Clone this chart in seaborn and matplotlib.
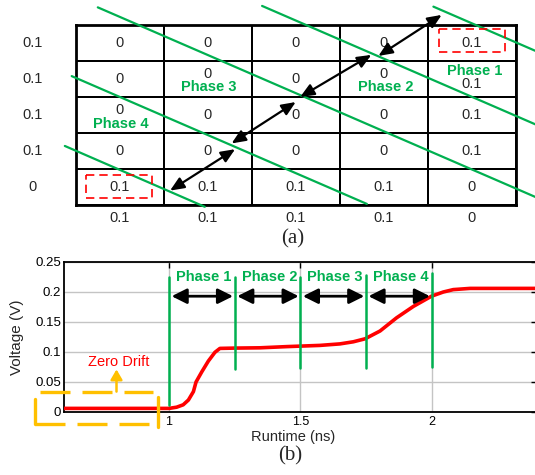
import numpy as np
import pandas as pd
import matplotlib
matplotlib.use("Agg")
import matplotlib.pyplot as plt
import seaborn as sns
from matplotlib.colors import ListedColormap
from matplotlib.patches import Rectangle

sns.set_style("white")
plt.rcParams['font.family'] = ['Liberation Sans', 'DejaVu Sans']

GREEN = '#00B050'
ORANGE = '#FFC000'

# ---------------- panel (a) data ----------------
cell_values = [[0, 0, 0, 0, 0.1],
               [0, 0, 0, 0, 0.1],
               [0, 0, 0, 0, 0.1],
               [0, 0, 0, 0, 0.1],
               [0.1, 0.1, 0.1, 0.1, 0]]
row_labels = ["0.1", "0.1", "0.1", "0.1", "0"]
col_labels = ["0.1", "0.1", "0.1", "0.1", "0"]
phase_names = ["Phase 1", "Phase 2", "Phase 3", "Phase 4"]
phase_label_x = [4.54, 3.52, 1.51, 0.51]
phase_label_y = [1.27, 1.73, 1.73, 2.76]
# cells whose value text is moved up/down (row, col) -> dy
shifted_cells = {(1, 1): -0.14, (1, 3): -0.14, (1, 4): 0.14, (2, 0): -0.14}
# diagonal phase boundaries, in table cell units
boundary_x0 = [4.066, 2.117, 0.248, -0.049, -0.127]
boundary_y0 = [-0.51, -0.53, -0.49, 1.42, 3.36]
boundary_x1 = [5.30, 5.30, 5.30, 3.309, 1.465]
boundary_y1 = [0.796, 2.838, 4.855, 4.97, 5.05]
# double arrows across each phase
arrow_x0 = [4.16, 3.36, 2.50, 1.81]
arrow_y0 = [-0.28, 0.83, 2.14, 3.45]
arrow_x1 = [3.44, 2.55, 1.77, 1.07]
arrow_y1 = [0.86, 2.00, 3.29, 4.60]
# red dashed highlight boxes (x, y, w, h)
box_x = [4.13, 0.117]
box_y = [0.12, 4.17]
box_w = [0.75, 0.746]
box_h = [0.64, 0.64]

# ---------------- panel (b) data ----------------
runtime = [0.6, 1.0, 1.029, 1.054, 1.074, 1.093, 1.103, 1.125, 1.15, 1.175,
           1.194, 1.25, 1.347, 1.45, 1.575, 1.651, 1.702, 1.747, 1.804, 1.867,
           1.931, 2.0, 2.045, 2.083, 2.147, 2.25, 2.4]
voltage = [0.006, 0.006, 0.008, 0.012, 0.02, 0.034, 0.05, 0.067, 0.085, 0.0995,
           0.106, 0.1065, 0.107, 0.109, 0.111, 0.1135, 0.117, 0.122, 0.135, 0.157,
           0.176, 0.193, 0.200, 0.204, 0.206, 0.206, 0.206]
phase_times = [1.0, 1.25, 1.5, 1.75, 2.0]
phase_line_bottom = [0.012, 0.071, 0.073, 0.074, 0.0755]
phase_line_top = [0.2245, 0.2245, 0.2255, 0.228, 0.231]
x_ticks = [1, 1.5, 2]
x_tick_labels = ["1", "1.5", "2"]
y_ticks = [0, 0.05, 0.1, 0.15, 0.2, 0.25]
y_tick_labels = ["0", "0.05", "0.1", "0.15", "0.2", "0.25"]

W, H = 535, 475
fig = plt.figure(figsize=(W / 100, H / 100), dpi=100)

# ================= panel (a) =================
ax_a = fig.add_axes([76 / W, 1 - 205 / H, 439.5 / W, 180 / H])
df = pd.DataFrame(cell_values)
sns.heatmap(df, ax=ax_a, cmap=ListedColormap(['white']), cbar=False,
            linewidths=1.4, linecolor='black', annot=False,
            xticklabels=False, yticklabels=False)
for s in ax_a.spines.values():
    s.set_visible(True)
    s.set_linewidth(2.0)
    s.set_color('black')

for i, row in enumerate(cell_values):
    for j, v in enumerate(row):
        dy = shifted_cells.get((i, j), 0.0)
        ax_a.text(j + 0.5, i + 0.5 + dy, f"{v:g}", ha='center', va='center',
                  fontsize=10.5, zorder=5)
for i, lab in enumerate(row_labels):
    ax_a.text(-0.49, i + 0.5, lab, ha='center', va='center', fontsize=10.5)
for j, lab in enumerate(col_labels):
    ax_a.text(j + 0.5, 5.37, lab, ha='center', va='center', fontsize=10.5)

for x0, y0, x1, y1 in zip(boundary_x0, boundary_y0, boundary_x1, boundary_y1):
    ax_a.plot([x0, x1], [y0, y1], color=GREEN, lw=1.6, clip_on=False, zorder=4)

for x0, y0, x1, y1 in zip(arrow_x0, arrow_y0, arrow_x1, arrow_y1):
    ax_a.annotate("", xy=(x1, y1), xytext=(x0, y0), annotation_clip=False,
                  arrowprops=dict(arrowstyle='<|-|>,head_length=0.7,head_width=0.3',
                                  color='black', lw=1.6, shrinkA=0, shrinkB=0,
                                  mutation_scale=12), zorder=6)

for bx, by, bw, bh in zip(box_x, box_y, box_w, box_h):
    ax_a.add_patch(Rectangle((bx, by), bw, bh, fill=False, ec='red', lw=1.2,
                             ls=(0, (5, 3)), clip_on=False, zorder=6))

for name, px, py in zip(phase_names, phase_label_x, phase_label_y):
    ax_a.text(px, py, name, ha='center', va='center', fontsize=10.5,
              fontweight='bold', color=GREEN, zorder=7)

fig.text(293 / W, 1 - 239 / H, "(a)", ha='center', va='center',
         fontsize=15, family='Liberation Serif')

# ================= panel (b) =================
ax_b = fig.add_axes([64 / W, 1 - 412 / H, 472.5 / W, 150 / H])
ax_b.set_axisbelow(True)
ax_b.grid(True, color='#C4C4C4', lw=1.0)
sns.lineplot(x=runtime, y=voltage, ax=ax_b, color='red', lw=2.6, zorder=3)
ax_b.set_xlim(0.6, 2.4)
ax_b.set_ylim(0, 0.25)
ax_b.set_xticks(x_ticks)
ax_b.set_xticklabels(x_tick_labels)
ax_b.set_yticks(y_ticks)
ax_b.set_yticklabels(y_tick_labels)
ax_b.tick_params(direction='in', length=4, width=1, top=True, right=True,
                 colors='black')
ax_b.tick_params(axis='y', pad=2, labelsize=9.5)
ax_b.tick_params(axis='x', pad=3, labelsize=9)
for s in ax_b.spines.values():
    s.set_visible(True)
    s.set_linewidth(1.3)
    s.set_color('black')
ax_b.set_xlabel("Runtime (ns)", fontsize=10.5, va='center')
ax_b.xaxis.set_label_coords((293 - 64) / 472.5, (412 - 437.5) / 150)
ax_b.set_ylabel("Voltage (V)", fontsize=11, va='center')
ax_b.yaxis.set_label_coords((17 - 64) / 472.5, 0.5)

for t, lo, hi in zip(phase_times, phase_line_bottom, phase_line_top):
    ax_b.plot([t, t], [lo, hi], color=GREEN, lw=1.8, zorder=4)
for k, name in enumerate(phase_names):
    a, b = phase_times[k], phase_times[k + 1]
    ax_b.text((a + b) / 2 + 0.008, 0.2255, name, ha='center', va='center',
              fontsize=10.5, fontweight='bold', color=GREEN, zorder=6)
    ax_b.annotate("", xy=(b - 0.006, 0.193), xytext=(a + 0.01, 0.193),
                  arrowprops=dict(arrowstyle='<|-|>,head_length=0.7,head_width=0.35',
                                  color='black', lw=2.0, shrinkA=0, shrinkB=0,
                                  mutation_scale=13), zorder=5)

# zero drift box
ax_b.plot([0.509, 0.939], [0.033, 0.033], color=ORANGE, lw=2.4,
          dashes=(9, 3.6), clip_on=False, zorder=5)
ax_b.plot([0.49, 0.935], [-0.0205, -0.0205], color=ORANGE, lw=2.4,
          dashes=(9, 3.6), clip_on=False, zorder=5)
ax_b.plot([0.49, 0.49], [-0.0205, 0.0217], color=ORANGE, lw=2.4,
          clip_on=False, zorder=5)
ax_b.plot([0.959, 0.959], [-0.0245, 0.0255], color=ORANGE, lw=2.4,
          clip_on=False, zorder=5)
ax_b.annotate("", xy=(0.80, 0.071), xytext=(0.80, 0.034),
              arrowprops=dict(arrowstyle='-|>,head_length=0.6,head_width=0.35',
                              color=ORANGE, lw=1.8, shrinkA=0, shrinkB=0,
                              mutation_scale=10), zorder=5)
ax_b.text(0.807, 0.0838, "Zero Drift", color='red', ha='center', va='center',
          fontsize=10.5, zorder=6)

fig.text(290 / W, 1 - 456 / H, "(b)", ha='center', va='center',
         fontsize=15, family='Liberation Serif')

fig.savefig("out.png", dpi=100)
